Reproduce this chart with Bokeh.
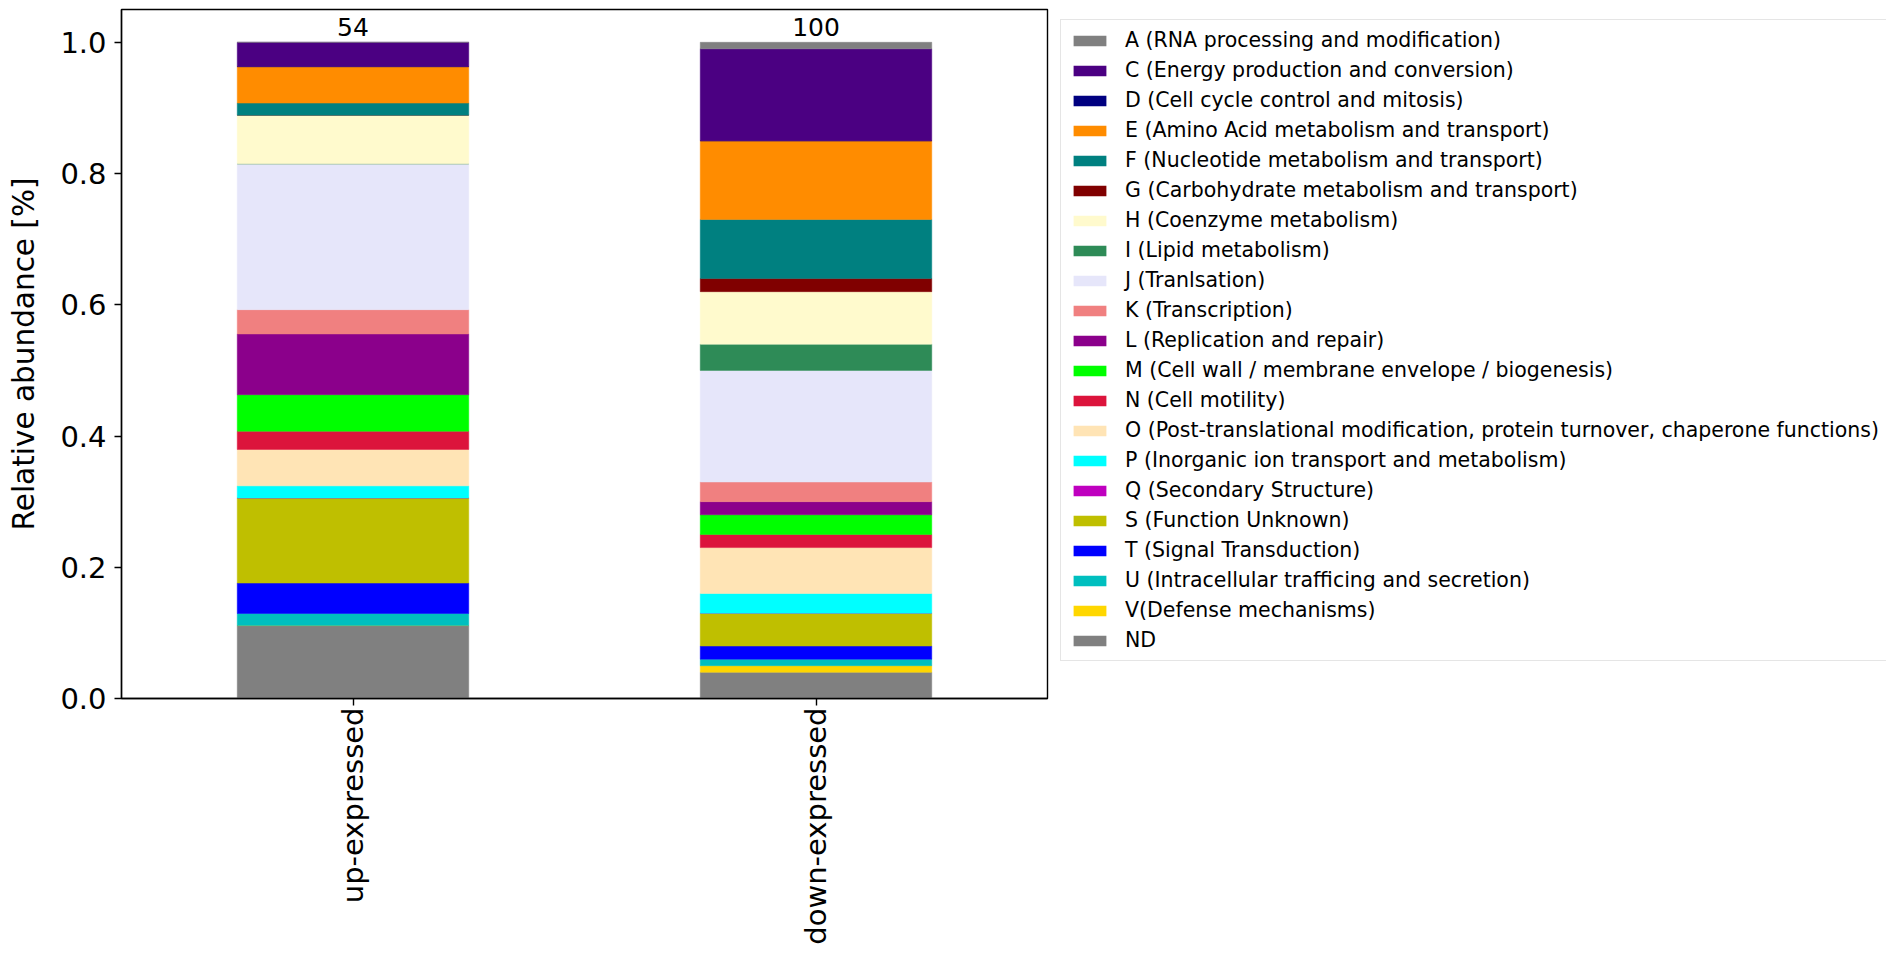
import math
from bokeh.plotting import figure
from bokeh.layouts import row
from bokeh.models import (ColumnDataSource, FactorRange, Range1d, Legend, LegendItem,
                          NumeralTickFormatter, FixedTicker)
from bokeh.core.properties import value
from bokeh.embed import file_html
from bokeh.resources import INLINE

FONT = "DejaVu Sans"

groups = ["up-expressed", "down-expressed"]
group_totals = [54, 100]

cog_codes = ["A", "C", "D", "E", "F", "G", "H", "I", "J", "K", "L", "M", "N",
             "O", "P", "Q", "S", "T", "U", "V", "ND"]
cog_labels = [
    "A (RNA processing and modification)",
    "C (Energy production and conversion)",
    "D (Cell cycle control and mitosis)",
    "E (Amino Acid metabolism and transport)",
    "F (Nucleotide metabolism and transport)",
    "G (Carbohydrate metabolism and transport)",
    "H (Coenzyme metabolism)",
    "I (Lipid metabolism)",
    "J (Tranlsation)",
    "K (Transcription)",
    "L (Replication and repair)",
    "M (Cell wall / membrane envelope / biogenesis)",
    "N (Cell motility)",
    "O (Post-translational modification, protein turnover, chaperone functions)",
    "P (Inorganic ion transport and metabolism)",
    "Q (Secondary Structure)",
    "S (Function Unknown)",
    "T (Signal Transduction)",
    "U (Intracellular trafficing and secretion)",
    "V(Defense mechanisms)",
    "ND",
]
cog_colors = ["#808080", "#4B0082", "#000080", "#FF8C00", "#008080", "#800000",
              "#FFFACD", "#2E8B57", "#E6E6FA", "#F08080", "#8B008B", "#00FF00",
              "#DC143C", "#FFE4B5", "#00FFFF", "#BF00BF", "#BFBF00", "#0000FF",
              "#00BFBF", "#FFD700", "#808080"]

# gene counts per COG category (same order as cog_codes)
up_counts = [0, 2, 0, 3, 1, 0, 4, 0, 12, 2, 5, 3, 1.5, 3, 1, 0, 7, 2.5, 1, 0, 6]
down_counts = [1, 14, 0, 12, 9, 2, 8, 4, 17, 3, 2, 3, 2, 7, 3, 0, 5, 2, 1, 1, 4]

data = {"group": groups}
for code, u, d in zip(cog_codes, up_counts, down_counts):
    data[code] = [u / group_totals[0], d / group_totals[1]]
source = ColumnDataSource(data)

stack_codes = list(reversed(cog_codes))
stack_colors = list(reversed(cog_colors))

# ---------------- main chart ----------------
p = figure(width=1050, height=947, x_range=FactorRange(*groups, range_padding=0),
           y_range=Range1d(0, 1.05), output_backend="svg", toolbar_location=None,
           min_border_left=121, min_border_right=3, min_border_top=9,
           min_border_bottom=248)

p.vbar_stack(stack_codes, x="group", width=0.5, source=source,
             fill_color=stack_colors, line_color=stack_colors, line_width=0.5)

# totals above bars
tops = [sum(data[c][i] for c in cog_codes) for i in range(len(groups))]
p.text(x=groups, y=tops, text=[str(t) for t in group_totals],
       text_align="center", text_baseline="bottom", y_offset=-6,
       text_font=value(FONT), text_font_size="25px", text_color="black")

p.xgrid.visible = False
p.ygrid.visible = False
p.outline_line_color = "black"
p.outline_line_width = 1.4
p.background_fill_color = "white"

for ax in (p.xaxis[0], p.yaxis[0]):
    ax.axis_line_color = "black"
    ax.axis_line_width = 1.4
    ax.major_tick_line_color = "black"
    ax.major_tick_line_width = 1.4
    ax.major_tick_out = 7
    ax.major_tick_in = 0
    ax.minor_tick_line_color = None
    ax.major_label_text_font = FONT
    ax.major_label_text_font_size = "29px"
    ax.major_label_text_color = "black"

p.yaxis.ticker = FixedTicker(ticks=[0, 0.2, 0.4, 0.6, 0.8, 1.0])
p.yaxis.formatter = NumeralTickFormatter(format="0.0")
p.yaxis.major_label_standoff = 8
p.yaxis.axis_label = "Relative abundance [%]"
p.yaxis.axis_label_text_font = FONT
p.yaxis.axis_label_text_font_size = "29.5px"
p.yaxis.axis_label_text_font_style = "normal"
p.yaxis.axis_label_text_color = "black"
p.yaxis.axis_label_standoff = 16

p.xaxis.major_label_orientation = math.pi / 2
p.xaxis.major_label_standoff = 2

# ---------------- legend panel ----------------
# zero-width copies of the stacked bars supply the legend swatches
lg = figure(width=836, height=947, x_range=FactorRange(*groups, range_padding=0),
            y_range=Range1d(2, 3), output_backend="svg", toolbar_location=None,
            x_axis_type=None, y_axis_type=None, min_border_left=0,
            min_border_right=0, min_border_top=9, min_border_bottom=248)
lg.outline_line_color = None
lg.xgrid.visible = False
lg.ygrid.visible = False
lg_renderers = lg.vbar_stack(stack_codes, x="group", width=0, source=source,
                             fill_color=stack_colors, line_color=None)
rmap = dict(zip(stack_codes, lg_renderers))

items = [LegendItem(label=lab, renderers=[rmap[c]]) for c, lab in zip(cog_codes, cog_labels)]
legend = Legend(items=items, location="top_left", label_text_font=FONT,
                label_text_font_size="20.5px", label_text_color="black",
                glyph_width=41, glyph_height=13, label_standoff=15, spacing=6,
                padding=8, margin=10, border_line_color="#cccccc",
                border_line_width=1.2, background_fill_alpha=1.0)
lg.add_layout(legend)

layout = row(p, lg)
open("out.html", "w").write(file_html(layout, INLINE))
